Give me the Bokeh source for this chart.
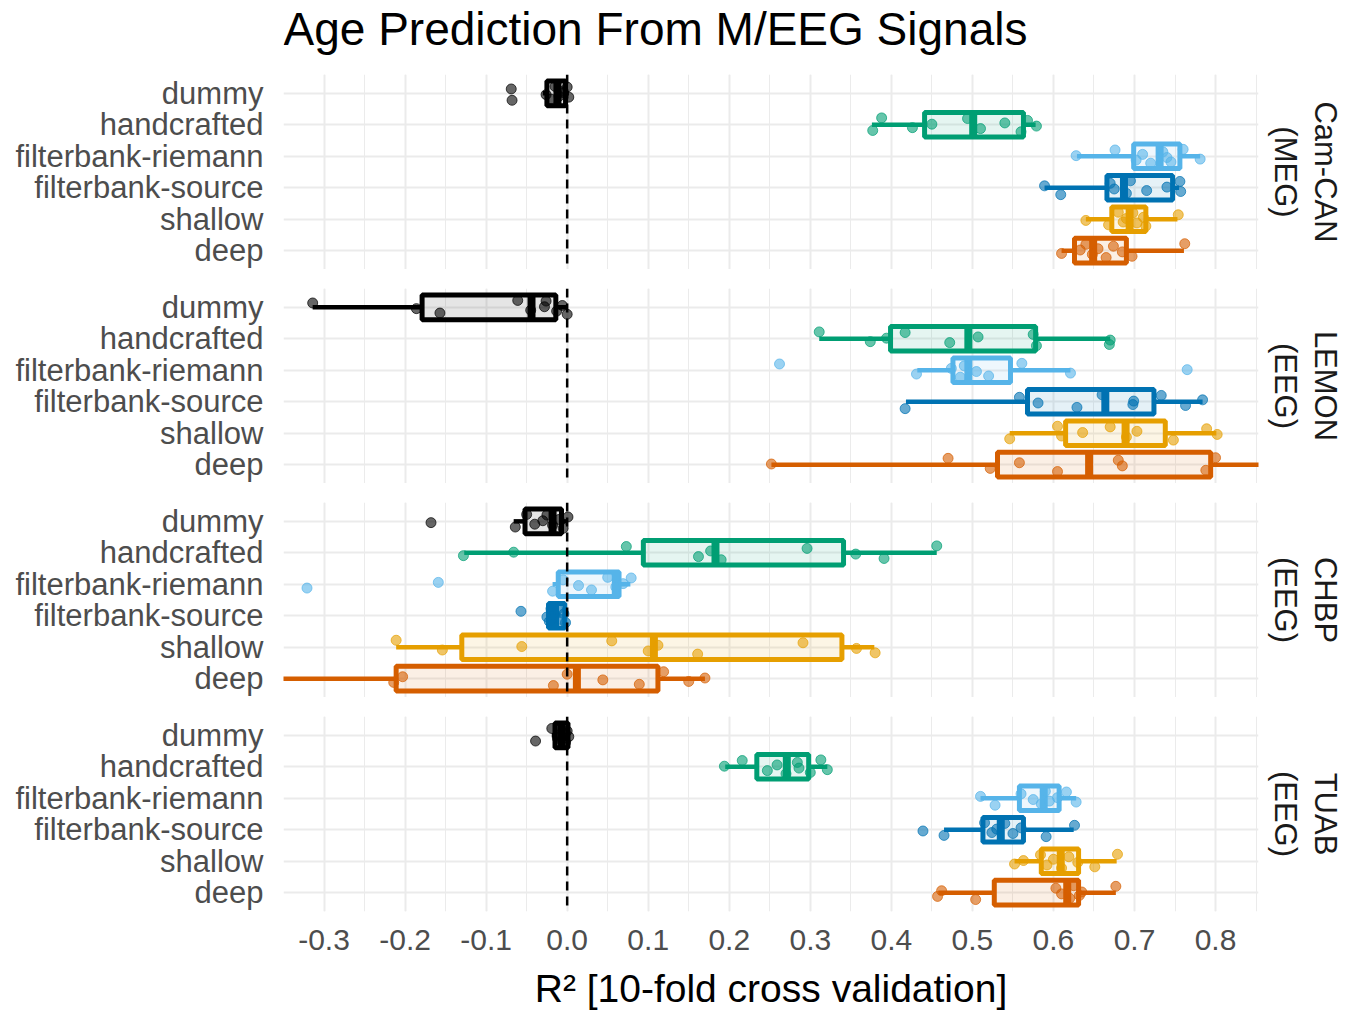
from bokeh.plotting import figure
from bokeh.layouts import column
from bokeh.models import (Range1d, FixedTicker, SingleIntervalTicker, Span, Label, Title,
                          ColumnDataSource, Grid, PrintfTickFormatter)
from bokeh.embed import file_html
from bokeh.resources import INLINE

# ---------------- data ----------------
TITLE = "Age Prediction From M/EEG Signals"
BENCHMARKS = ["dummy", "handcrafted", "filterbank-riemann", "filterbank-source", "shallow", "deep"]
COLORS = ["#000000", "#009E73", "#56B4E9", "#0072B2", "#E69F00", "#D55E00"]
DATASET_NAMES = ["Cam-CAN", "LEMON", "CHBP", "TUAB"]
DATASET_MODALITIES = ["(MEG)", "(EEG)", "(EEG)", "(EEG)"]

# Cam-CAN (MEG)
CAMCAN_LO = [-0.030, 0.376, 0.629, 0.589, 0.640, 0.610]
CAMCAN_Q1 = [-0.025, 0.441, 0.699, 0.666, 0.672, 0.626]
CAMCAN_MED = [-0.012, 0.501, 0.731, 0.687, 0.694, 0.649]
CAMCAN_Q3 = [-0.002, 0.563, 0.756, 0.747, 0.714, 0.690]
CAMCAN_HI = [0.002, 0.578, 0.781, 0.755, 0.753, 0.761]
CAMCAN_PTS = [
    [-0.068, -0.069, -0.026, -0.020, -0.015, -0.010, -0.005, 0.000, 0.002, -0.008],
    [0.377, 0.388, 0.426, 0.450, 0.494, 0.510, 0.540, 0.560, 0.568, 0.579],
    [0.628, 0.676, 0.702, 0.710, 0.720, 0.735, 0.740, 0.745, 0.760, 0.781],
    [0.589, 0.609, 0.670, 0.675, 0.690, 0.695, 0.715, 0.740, 0.756, 0.757],
    [0.640, 0.668, 0.680, 0.686, 0.690, 0.698, 0.703, 0.711, 0.714, 0.754],
    [0.610, 0.633, 0.640, 0.648, 0.655, 0.665, 0.674, 0.685, 0.697, 0.762],
]

# LEMON (EEG)
LEMON_LO = [-0.314, 0.311, 0.432, 0.418, 0.546, 0.252]
LEMON_Q1 = [-0.179, 0.399, 0.476, 0.568, 0.615, 0.531]
LEMON_MED = [-0.044, 0.495, 0.495, 0.664, 0.689, 0.644]
LEMON_Q3 = [-0.014, 0.578, 0.547, 0.724, 0.738, 0.794]
LEMON_HI = [0.000, 0.670, 0.621, 0.784, 0.801, 0.880]
LEMON_PTS = [
    [-0.314, -0.186, -0.157, -0.061, -0.045, -0.028, -0.026, -0.013, -0.006, 0.000],
    [0.311, 0.374, 0.394, 0.417, 0.472, 0.507, 0.579, 0.575, 0.670, 0.669],
    [0.262, 0.431, 0.474, 0.485, 0.490, 0.505, 0.520, 0.561, 0.621, 0.765],
    [0.417, 0.558, 0.581, 0.629, 0.660, 0.698, 0.699, 0.733, 0.763, 0.784],
    [0.546, 0.605, 0.610, 0.636, 0.670, 0.690, 0.703, 0.748, 0.789, 0.802],
    [0.252, 0.470, 0.522, 0.558, 0.605, 0.680, 0.685, 0.788, 0.800, 0.880],
]

# CHBP (EEG)
CHBP_LO = [-0.066, -0.127, -0.018, -0.025, -0.211, -0.400]
CHBP_Q1 = [-0.052, 0.094, -0.011, -0.023, -0.130, -0.211]
CHBP_MED = [-0.018, 0.183, 0.060, -0.015, 0.107, 0.012]
CHBP_Q3 = [-0.007, 0.341, 0.064, -0.003, 0.339, 0.112]
CHBP_HI = [0.001, 0.456, 0.078, -0.002, 0.379, 0.170]
CHBP_PTS = [
    [-0.168, -0.064, -0.050, -0.040, -0.030, -0.025, -0.018, -0.010, -0.005, 0.001],
    [-0.128, -0.066, 0.073, 0.162, 0.177, 0.190, 0.296, 0.356, 0.391, 0.456],
    [-0.321, -0.159, -0.018, -0.005, 0.014, 0.030, 0.050, 0.060, 0.069, 0.079],
    [-0.057, -0.025, -0.022, -0.020, -0.018, -0.015, -0.012, -0.008, -0.004, -0.002],
    [-0.211, -0.154, -0.056, 0.055, 0.100, 0.112, 0.161, 0.291, 0.357, 0.380],
    [-0.400, -0.214, -0.203, -0.017, 0.000, 0.044, 0.089, 0.119, 0.150, 0.170],
]

# TUAB (EEG)
TUAB_LO = [-0.019, 0.195, 0.510, 0.465, 0.552, 0.458]
TUAB_Q1 = [-0.015, 0.234, 0.558, 0.513, 0.585, 0.527]
TUAB_MED = [-0.007, 0.271, 0.588, 0.535, 0.609, 0.617]
TUAB_Q3 = [0.001, 0.298, 0.607, 0.563, 0.631, 0.631]
TUAB_HI = [0.003, 0.321, 0.628, 0.625, 0.678, 0.677]
TUAB_PTS = [
    [-0.039, -0.019, -0.012, -0.010, -0.008, -0.006, -0.004, -0.002, 0.000, 0.002],
    [0.194, 0.216, 0.247, 0.259, 0.270, 0.284, 0.286, 0.300, 0.313, 0.321],
    [0.510, 0.528, 0.560, 0.575, 0.585, 0.590, 0.595, 0.605, 0.616, 0.628],
    [0.439, 0.465, 0.515, 0.524, 0.530, 0.540, 0.550, 0.560, 0.591, 0.626],
    [0.552, 0.563, 0.584, 0.592, 0.600, 0.610, 0.619, 0.630, 0.651, 0.679],
    [0.457, 0.462, 0.504, 0.603, 0.610, 0.620, 0.625, 0.632, 0.635, 0.677],
]

PANELS = [
    (CAMCAN_LO, CAMCAN_Q1, CAMCAN_MED, CAMCAN_Q3, CAMCAN_HI, CAMCAN_PTS),
    (LEMON_LO, LEMON_Q1, LEMON_MED, LEMON_Q3, LEMON_HI, LEMON_PTS),
    (CHBP_LO, CHBP_Q1, CHBP_MED, CHBP_Q3, CHBP_HI, CHBP_PTS),
    (TUAB_LO, TUAB_Q1, TUAB_MED, TUAB_Q3, TUAB_HI, TUAB_PTS),
]

# fixed vertical jitter pattern (style only)
JITTER = [-0.20, 0.12, -0.06, 0.22, -0.14, 0.04, 0.18, -0.22, 0.09, -0.02]

FONT = "Liberation Sans"
GRID_COLOR = "#EBEBEB"
BOX_H = 0.78
FRAME_W, FRAME_H = 975, 195
BORDER_L, BORDER_R = 283, 88
TITLE_H = 68

x_range = Range1d(-0.35, 0.853)
rows = list(range(1, len(BENCHMARKS) + 1))

# ---- title strip (its own small figure, text inside its frame) ----
tfig = figure(frame_width=FRAME_W, frame_height=TITLE_H, x_range=x_range,
              y_range=Range1d(0, TITLE_H), output_backend="svg", toolbar_location=None,
              x_axis_location=None, y_axis_location=None,
              min_border_left=BORDER_L, min_border_right=BORDER_R,
              min_border_top=0, min_border_bottom=0)
tfig.outline_line_color = None
tfig.background_fill_color = "white"
tfig.border_fill_color = "white"
tfig.center = [r for r in tfig.center if not isinstance(r, Grid)]
tfig.add_layout(Label(x=-0.35, y=TITLE_H - 28, text=TITLE, text_font=FONT,
                      text_font_size="46px", text_color="#000000", text_align="left",
                      text_baseline="middle"))

figs = [tfig]
for i, (dname, dmod, data) in enumerate(zip(DATASET_NAMES, DATASET_MODALITIES, PANELS)):
    lo, q1, med, q3, hi, pts = data
    first = i == 0
    last = i == len(PANELS) - 1
    top = (74 - TITLE_H) if first else 19
    p = figure(frame_width=FRAME_W, frame_height=FRAME_H,
               x_range=x_range, y_range=Range1d(6.6, 0.4),
               output_backend="svg", toolbar_location=None,
               x_axis_location="below" if last else None,
               min_border_left=BORDER_L, min_border_right=BORDER_R,
               min_border_top=top, min_border_bottom=0)
    p.outline_line_color = None
    p.background_fill_color = "white"
    p.border_fill_color = "white"

    # replace default grids
    p.center = [r for r in p.center if not isinstance(r, Grid)]
    p.add_layout(Grid(dimension=0, ticker=SingleIntervalTicker(interval=0.1, num_minor_ticks=2),
                      grid_line_color=GRID_COLOR, grid_line_width=2,
                      minor_grid_line_color=GRID_COLOR, minor_grid_line_width=1))
    p.add_layout(Grid(dimension=1, ticker=FixedTicker(ticks=rows),
                      grid_line_color=GRID_COLOR, grid_line_width=2.2))

    # y axis
    ya = p.yaxis[0]
    ya.ticker = FixedTicker(ticks=rows)
    ya.major_label_overrides = {r: b for r, b in zip(rows, BENCHMARKS)}
    ya.axis_line_color = None
    ya.major_tick_line_color = None
    ya.minor_tick_line_color = None
    ya.major_tick_out = 8
    ya.major_label_standoff = 12
    ya.major_label_text_font = FONT
    ya.major_label_text_font_size = "31px"
    ya.major_label_text_color = "#4D4D4D"

    if last:
        xa = p.xaxis[0]
        xa.ticker = SingleIntervalTicker(interval=0.1, num_minor_ticks=2)
        xa.formatter = PrintfTickFormatter(format="%.1f")
        xa.axis_line_color = None
        xa.major_tick_line_color = None
        xa.minor_tick_line_color = None
        xa.major_tick_out = 6
        xa.major_label_standoff = 12
        xa.major_label_text_font = FONT
        xa.major_label_text_font_size = "30px"
        xa.major_label_text_color = "#4D4D4D"
        xa.axis_label = "R² [10-fold cross validation]"
        xa.axis_label_text_font = FONT
        xa.axis_label_text_font_size = "39px"
        xa.axis_label_text_font_style = "normal"
        xa.axis_label_text_color = "#000000"
        xa.axis_label_standoff = 14

    # facet strip labels (inner line first, nearest to the frame)
    p.add_layout(Title(text=dmod, align="center", text_font=FONT, text_font_size="31px",
                       text_font_style="normal", text_color="#1A1A1A", standoff=19), "right")
    p.add_layout(Title(text=dname, align="center", text_font=FONT, text_font_size="31px",
                       text_font_style="normal", text_color="#1A1A1A", standoff=-14), "right")

    box_src = ColumnDataSource(dict(
        y=rows, lo=lo, q1=q1, med=med, q3=q3, hi=hi, color=COLORS,
        ytop=[r - BOX_H / 2 for r in rows], ybot=[r + BOX_H / 2 for r in rows]))

    p.segment(x0="lo", y0="y", x1="q1", y1="y", line_color="color", line_width=4.5, source=box_src)
    p.segment(x0="q3", y0="y", x1="hi", y1="y", line_color="color", line_width=4.5, source=box_src)
    p.hbar(y="y", height=BOX_H, left="q1", right="q3", fill_color="color", fill_alpha=0.1,
           line_color="color", line_width=5, source=box_src)
    p.segment(x0="med", y0="ytop", x1="med", y1="ybot", line_color="color", line_width=8,
              source=box_src)

    px, py, pc = [], [], []
    for r, vals, c in zip(rows, pts, COLORS):
        for k, v in enumerate(vals):
            px.append(v)
            py.append(r + JITTER[(k + 3 * r + i) % len(JITTER)])
            pc.append(c)
    p.scatter(x=px, y=py, size=10, fill_color=pc, fill_alpha=0.6, line_color=pc,
              line_alpha=0.7, line_width=1)

    p.add_layout(Span(location=0, dimension="height", line_color="black", line_width=2.5,
                      line_dash="9 6"))
    figs.append(p)

layout = column(*figs, spacing=0)
open("out.html", "w").write(file_html(layout, INLINE))
